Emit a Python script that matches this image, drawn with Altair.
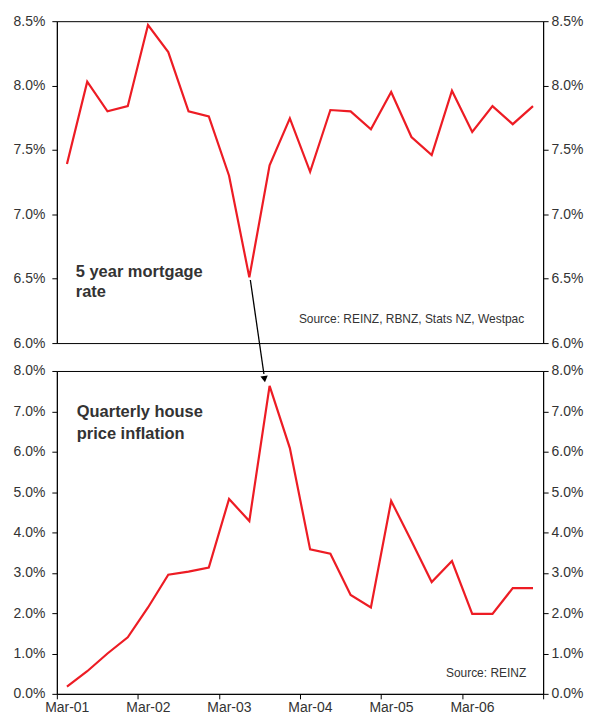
import altair as alt
import pandas as pd

# ---------------- data ----------------
quarters = [
    "Mar-01", "Jun-01", "Sep-01", "Dec-01",
    "Mar-02", "Jun-02", "Sep-02", "Dec-02",
    "Mar-03", "Jun-03", "Sep-03", "Dec-03",
    "Mar-04", "Jun-04", "Sep-04", "Dec-04",
    "Mar-05", "Jun-05", "Sep-05", "Dec-05",
    "Mar-06", "Jun-06", "Sep-06", "Dec-06",
]
mortgage_rate = [7.39, 8.03, 7.80, 7.84, 8.47, 8.26, 7.80, 7.76,
                 7.30, 6.51, 7.38, 7.745, 7.33, 7.81, 7.80, 7.66,
                 7.95, 7.60, 7.46, 7.96, 7.64, 7.84, 7.70, 7.84]
house_inflation = [0.18, 0.56, 1.00, 1.40, 2.14, 2.95, 3.03, 3.13,
                   4.83, 4.28, 7.63, 6.09, 3.58, 3.47, 2.45, 2.14,
                   4.78, 3.79, 2.77, 3.29, 1.98, 1.98, 2.62, 2.62]

top_ticks = [6.0, 6.5, 7.0, 7.5, 8.0, 8.5]
bottom_ticks = [0, 1, 2, 3, 4, 5, 6, 7, 8]
x_ticks = [0, 4, 8, 12, 16, 20, 24]
x_tick_labels = ["Mar-01", "Mar-02", "Mar-03", "Mar-04", "Mar-05", "Mar-06", ""]

# arrow from the mortgage-rate trough to the house-price peak (top panel units)
arrow_x = [9.55, 10.22]
arrow_y = [6.49, 5.76]
arrow_head = [10.25, 5.72]

top_label = ["5 year mortgage", "rate"]
bottom_label = ["Quarterly house", "price inflation"]
top_source = "Source: REINZ, RBNZ, Stats NZ, Westpac"
bottom_source = "Source: REINZ"

# ---------------- styling ----------------
RED = "#ED1C24"
TXT = "#333333"
FONT = "Liberation Sans"
W = 488
H_TOP = 323
H_BOT = 324

df = pd.DataFrame({
    "quarter": quarters,
    "pos": [i + 0.5 for i in range(len(quarters))],
    "rate": mortgage_rate,
    "hpi": house_inflation,
})
arrow_df = pd.DataFrame({"x": [arrow_x[0]], "x2": [arrow_x[1]],
                         "y": [arrow_y[0]], "y2": [arrow_y[1]]})
head_df = pd.DataFrame({"x": [arrow_head[0]], "y": [arrow_head[1]]})
one = pd.DataFrame({"k": [0]})

label_map = "[" + ",".join(f"'{s}'" for s in x_tick_labels) + "][datum.value/4]"
pct_expr = "format(datum.value, '.1f') + '%'"

x_scale = alt.Scale(domain=[0, 24], nice=False, zero=False)
top_scale = alt.Scale(domain=[6.0, 8.5], nice=False, zero=False)
bot_scale = alt.Scale(domain=[0, 8], nice=False, zero=False)


def y_axis(orient, values):
    return alt.Axis(orient=orient, values=values, labelExpr=pct_expr, title=None,
                    tickSize=5, labelPadding=7 if orient == "left" else 3,
                    grid=False)


# ---------------- top panel ----------------
x_top = alt.X("pos:Q", scale=x_scale, axis=None)

top_line = alt.Chart(df).mark_line(color=RED, strokeWidth=2.2).encode(
    x=x_top,
    y=alt.Y("rate:Q", scale=top_scale, axis=y_axis("left", top_ticks)),
)
top_right = alt.Chart(df).mark_line(opacity=0).encode(
    x=x_top,
    y=alt.Y("rate:Q", scale=top_scale, axis=y_axis("right", top_ticks)),
)
arrow_rule = alt.Chart(arrow_df).mark_rule(color="black", strokeWidth=1.3).encode(
    x=alt.X("x:Q", scale=x_scale, axis=None), x2="x2:Q",
    y=alt.Y("y:Q", scale=top_scale, axis=None), y2="y2:Q",
)
arrow_tip = alt.Chart(head_df).mark_point(
    shape="triangle-down", filled=True, color="black", size=55, angle=352, opacity=1
).encode(
    x=alt.X("x:Q", scale=x_scale, axis=None),
    y=alt.Y("y:Q", scale=top_scale, axis=None),
)
top_text = alt.Chart(one).mark_text(
    align="left", baseline="alphabetic", font=FONT, fontSize=16.5,
    fontWeight="bold", color=TXT, lineHeight=20,
).encode(x=alt.value(19), y=alt.value(256.5), text=alt.value(top_label))
top_src = alt.Chart(one).mark_text(
    align="right", baseline="alphabetic", font=FONT, fontSize=12, color=TXT,
).encode(x=alt.value(469), y=alt.value(302.5), text=alt.value(top_source))

top = alt.layer(top_line, top_right, arrow_rule, arrow_tip, top_text, top_src).resolve_scale(
    y="independent"
).properties(width=W, height=H_TOP)

# ---------------- bottom panel ----------------
x_bot = alt.X("pos:Q", scale=x_scale, axis=alt.Axis(
    values=x_ticks, labelExpr=label_map, title=None, tickSize=5,
    labelOffset=10, labelPadding=2, grid=False, labelFlush=False,
    labelOverlap=False,
))

bot_line = alt.Chart(df).mark_line(color=RED, strokeWidth=2.2).encode(
    x=x_bot,
    y=alt.Y("hpi:Q", scale=bot_scale, axis=y_axis("left", bottom_ticks)),
)
bot_right = alt.Chart(df).mark_line(opacity=0).encode(
    x=x_bot,
    y=alt.Y("hpi:Q", scale=bot_scale, axis=y_axis("right", bottom_ticks)),
)
bot_text = alt.Chart(one).mark_text(
    align="left", baseline="alphabetic", font=FONT, fontSize=16.5,
    fontWeight="bold", color=TXT, lineHeight=22,
).encode(x=alt.value(20), y=alt.value(46.5), text=alt.value(bottom_label))
bot_src = alt.Chart(one).mark_text(
    align="right", baseline="alphabetic", font=FONT, fontSize=12, color=TXT,
).encode(x=alt.value(471), y=alt.value(307), text=alt.value(bottom_source))

bottom = alt.layer(bot_line, bot_right, bot_text, bot_src).resolve_scale(
    y="independent"
).properties(width=W, height=H_BOT)

chart = alt.vconcat(top, bottom, spacing=28, bounds="flush").properties(
    padding={"left": 4, "top": 4, "right": 0, "bottom": 0},
    background="white",
).configure_view(
    stroke="black", strokeWidth=1
).configure_axis(
    domainColor="black", tickColor="black", labelFont=FONT, labelFontSize=14,
    labelColor=TXT, domainWidth=1, tickWidth=1,
)

chart.save("out.html", embed_options={"renderer": "svg", "actions": False})
